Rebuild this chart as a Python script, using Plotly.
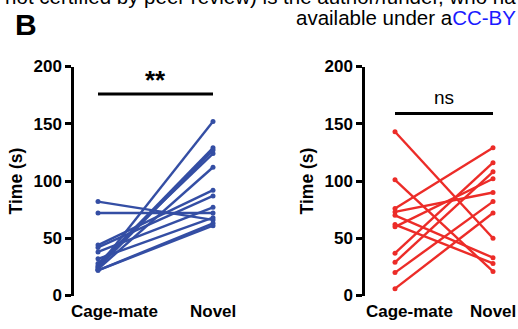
import plotly.graph_objects as go

W, H = 518, 329
FONT = "Liberation Sans, Arial, sans-serif"

conditions = ["Cage-mate", "Novel"]
x_pos = [0, 1]

# Left panel (blue) paired values (s)
blue_cage = [82, 72, 44, 42, 38, 32, 28, 26, 25, 24, 23, 22, 22]
blue_novel = [66, 72, 92, 87, 77, 68, 124, 129, 152, 127, 112, 63, 61]

# Right panel (red) paired values (s)
red_cage = [143, 101, 76, 73, 70, 62, 60, 37, 29, 20, 6]
red_novel = [50, 21, 129, 90, 33, 28, 102, 116, 108, 82, 72]

y_ticks = [0, 50, 100, 150, 200]
sig_left = {"label": "**", "y": 176}
sig_right = {"label": "ns", "y": 159}

BLUE = "rgb(52,78,164)"
RED = "rgb(236,44,40)"

fig = go.Figure()
for c, n in zip(blue_cage, blue_novel):
    fig.add_trace(go.Scatter(x=x_pos, y=[c, n], mode="lines+markers",
                             line=dict(color=BLUE, width=2.4),
                             marker=dict(color=BLUE, size=5),
                             xaxis="x", yaxis="y", showlegend=False))
for c, n in zip(red_cage, red_novel):
    fig.add_trace(go.Scatter(x=x_pos, y=[c, n], mode="lines+markers",
                             line=dict(color=RED, width=2.4),
                             marker=dict(color=RED, size=5),
                             xaxis="x2", yaxis="y2", showlegend=False))

ydom = [1 - 295.5 / H, 1 - 66.5 / H]
yax = dict(range=[0, 200], domain=ydom, showline=True, linecolor="black", linewidth=2.5,
           ticks="outside", ticklen=6, tickwidth=2.5, tickcolor="black",
           tickvals=y_ticks, showgrid=False, zeroline=False,
           tickfont=dict(family=FONT, size=17, color="black", weight="bold"),
           title=dict(text="<b>Time (s)</b>", font=dict(family=FONT, size=17.5, color="black"),
                      standoff=7))
xax = dict(showline=False, showgrid=False, zeroline=False, showticklabels=False, ticks="")

fig.update_layout(
    width=W, height=H, margin=dict(l=0, r=0, t=0, b=0, autoexpand=False),
    plot_bgcolor="white", paper_bgcolor="white",
    xaxis=dict(xax, domain=[74 / W, 230 / W], range=[-24 / 115, 1 + 17 / 115]),
    yaxis=dict(yax, anchor="x"),
    xaxis2=dict(xax, domain=[365 / W, 510 / W], range=[-30 / 98, 1 + 17 / 98]),
    yaxis2=dict(yax, anchor="x2"),
)

# significance bars
for xr, yr, sig, dy, txt, fs in [("x", "y", sig_left, -3, "<b>**</b>", 26),
                                  ("x2", "y2", sig_right, 3, sig_right["label"], 19)]:
    fig.add_shape(type="line", xref=xr, yref=yr, x0=x_pos[0], x1=x_pos[1],
                  y0=sig["y"], y1=sig["y"], line=dict(color="black", width=3))
    fig.add_annotation(xref=xr, yref=yr, x=(x_pos[0] + x_pos[1]) / 2, y=sig["y"],
                       yshift=dy, yanchor="bottom", text=txt,
                       showarrow=False, font=dict(family=FONT, size=fs, color="black"))

# category labels
for xr, shifts in [("x", [16, 0]), ("x2", [14, 0])]:
    for xp, lab, s in zip(x_pos, conditions, shifts):
        fig.add_annotation(xref=xr, yref="paper", x=xp, y=1 - 311 / H, xshift=s,
                           yanchor="middle", text=f"<b>{lab}</b>", showarrow=False,
                           font=dict(family=FONT, size=17, color="black"))

# header texts
fig.add_annotation(xref="paper", yref="paper", x=1, y=1 + 3.5 / H, xanchor="right", yanchor="middle",
                   text="(which was not certified by peer review) is the author/funder, who ha",
                   showarrow=False, font=dict(family=FONT, size=20.5, color="black"))
fig.add_annotation(xref="paper", yref="paper", x=1, y=1 - 17.5 / H, xanchor="right", yanchor="middle",
                   text="available under a<span style='color:#1a1aff'>CC-BY</span>",
                   showarrow=False, font=dict(family=FONT, size=20.5, color="black"))
fig.add_annotation(xref="paper", yref="paper", x=13 / W, y=1 - 24 / H, xanchor="left", yanchor="middle",
                   text="<b>B</b>", showarrow=False, font=dict(family=FONT, size=30, color="black"))

fig.write_html("out.html", config={"displayModeBar": False},
               post_script="document.body.style.margin='0';document.body.style.overflow='hidden';")
